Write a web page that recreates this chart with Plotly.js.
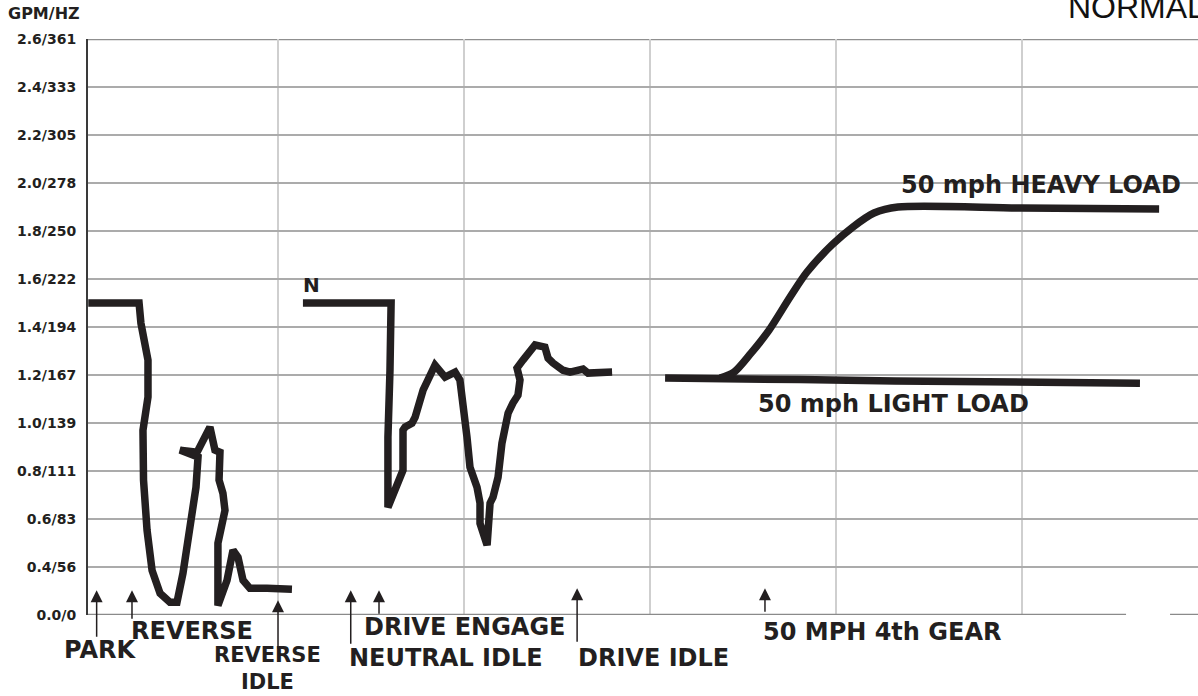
<!DOCTYPE html>
<html><head><meta charset="utf-8">
<script src="https://cdn.plot.ly/plotly-3.0.1.min.js"></script>
<style>html,body{margin:0;padding:0;background:#fff;overflow:hidden;} #chart{width:1198px;height:696px;}</style>
</head><body><div id="chart"></div>
<script>
// ---- data ----
const yTickVals = [0.2,0.4,0.6,0.8,1.0,1.2,1.4,1.6,1.8,2.0,2.2,2.4,2.6];
const yTickText = ['0.0/0','0.4/56','0.6/83','0.8/111','1.0/139','1.2/167','1.4/194','1.6/222','1.8/250','2.0/278','2.2/305','2.4/333','2.6/361'];
const xGridVals = [1,2,3,4,5];

const parkReverseT = [-0.02,0.253,0.263,0.285,0.301,0.301,0.274,0.277,0.296,0.323,0.366,0.419,0.457,0.489,0.527,0.559,0.570,0.473,0.565,0.602,0.634,0.661,0.688,0.683,0.704,0.715,0.699,0.677,0.677,0.726,0.758,0.785,0.812,0.849,0.941,1.075];
const parkReverseV = [1.50,1.50,1.416,1.316,1.262,1.108,0.970,0.762,0.553,0.386,0.290,0.253,0.253,0.374,0.553,0.732,0.858,0.887,0.878,0.928,0.983,0.887,0.878,0.762,0.707,0.636,0.566,0.499,0.240,0.345,0.470,0.440,0.345,0.311,0.311,0.307];

const neutralDriveT = [1.134,1.608,1.602,1.591,1.591,1.640,1.672,1.672,1.683,1.720,1.737,1.780,1.817,1.844,1.898,1.952,1.978,1.995,2.016,2.032,2.070,2.086,2.086,2.124,2.140,2.156,2.183,2.204,2.237,2.263,2.290,2.301,2.285,2.317,2.355,2.382,2.435,2.452,2.478,2.532,2.570,2.640,2.667,2.747,2.796];
const neutralDriveV = [1.50,1.50,1.220,0.941,0.649,0.732,0.803,0.970,0.983,0.999,1.024,1.137,1.208,1.241,1.191,1.212,1.179,1.083,0.941,0.816,0.732,0.666,0.582,0.491,0.666,0.691,0.774,0.916,1.041,1.083,1.116,1.179,1.229,1.262,1.304,1.325,1.316,1.270,1.250,1.220,1.212,1.225,1.208,1.212,1.212];

const lightLoadT = [3.081,3.376,3.806,4.317,4.989,5.634];
const lightLoadV = [1.187,1.187,1.181,1.175,1.170,1.166];

const heavyLoadT = [3.376,3.452,3.543,3.640,3.753,3.844,3.978,4.091,4.204,4.333,4.995,5.737];
const heavyLoadV = [1.187,1.212,1.291,1.387,1.525,1.629,1.742,1.817,1.875,1.900,1.896,1.892];

const eventLabels = ['PARK','REVERSE','REVERSE<br>IDLE','NEUTRAL IDLE','DRIVE ENGAGE','DRIVE IDLE','50 MPH 4th GEAR'];
const eventT = [0.025,0.215,1.0,1.391,1.543,2.608,3.618];
const eventTipV = [0.303,0.303,0.261,0.303,0.303,0.311,0.311];

// ---- styling ----
const INK = '#231f20';
const FONT = 'DejaVu Sans, Liberation Sans, Arial, sans-serif';
const lineStyle = {color: INK, width: 7.5};

const traces = [
  {x: parkReverseT, y: parkReverseV, mode: 'lines', line: lineStyle, hoverinfo: 'skip'},
  {x: neutralDriveT, y: neutralDriveV, mode: 'lines', line: lineStyle, hoverinfo: 'skip'},
  {x: lightLoadT, y: lightLoadV, mode: 'lines', line: lineStyle, hoverinfo: 'skip'},
  {x: heavyLoadT, y: heavyLoadV, mode: 'lines', line: Object.assign({shape: 'spline', smoothing: 0.8}, lineStyle), hoverinfo: 'skip'}
];

const arrowTail = [48, 30, 50, 55, 25, 55, 25];
const annotations = [];
eventT.forEach((t, i) => {
  annotations.push({x: t, y: eventTipV[i], xref: 'x', yref: 'y', text: '', showarrow: true,
    ax: 0, ay: arrowTail[i], arrowhead: 2, arrowsize: 1.6, arrowwidth: 1.5, arrowcolor: INK, standoff: 0});
});
const lblFont = {family: FONT, size: 24, color: INK, weight: 'bold'};
const smallLblFont = {family: FONT, size: 21, color: INK, weight: 'bold'};
function pY(py){ return (615 - py) / 576; }
function tX(px){ return (px - 92) / 186; }
const labelPos = [
  {text: eventLabels[0], x: tX(99.5), y: pY(649.5), xanchor: 'center', font: lblFont},
  {text: eventLabels[1], x: tX(129), y: pY(631), xanchor: 'left', font: lblFont},
  {text: eventLabels[2], x: tX(267.5), y: pY(668), xanchor: 'center', font: smallLblFont},
  {text: eventLabels[3], x: tX(347), y: pY(658), xanchor: 'left', font: lblFont},
  {text: eventLabels[4], x: tX(362), y: pY(627), xanchor: 'left', font: lblFont},
  {text: eventLabels[5], x: tX(576), y: pY(658), xanchor: 'left', font: lblFont},
  {text: eventLabels[6], x: tX(761), y: pY(631.5), xanchor: 'left', font: lblFont}
];
labelPos.forEach(l => annotations.push(Object.assign({xref: 'x', yref: 'paper', yanchor: 'middle', showarrow: false}, l)));

annotations.push({text: '50 mph HEAVY LOAD', x: tX(899), y: 1.992, xref: 'x', yref: 'y', xanchor: 'left', yanchor: 'middle', showarrow: false, font: lblFont});
annotations.push({text: '50 mph LIGHT LOAD', x: tX(756), y: 1.081, xref: 'x', yref: 'y', xanchor: 'left', yanchor: 'middle', showarrow: false, font: lblFont});
annotations.push({text: 'N', x: tX(311), y: 1.573, xref: 'x', yref: 'y', xanchor: 'center', yanchor: 'middle', showarrow: false, font: {family: FONT, size: 20, color: INK, weight: 'bold'}});
annotations.push({text: 'GPM/HZ', x: (6 - 88) / 1110, y: (615 - 13) / 576, xref: 'paper', yref: 'paper', xanchor: 'left', yanchor: 'middle', showarrow: false, font: {family: FONT, size: 16, color: INK, weight: 'bold'}});
annotations.push({text: 'NORMAL', x: (1066 - 88) / 1110, y: (615 - 7) / 576, xref: 'paper', yref: 'paper', xanchor: 'left', yanchor: 'middle', showarrow: false, font: {family: 'Liberation Sans, Arial, sans-serif', size: 32, color: '#111'}});

const gapL = tX(1126), gapR = tX(1170);
const shapes = [
  {type: 'line', xref: 'paper', yref: 'y', x0: 0, x1: 1, y0: 2.6, y1: 2.6, line: {color: '#8f8f8f', width: 2.5}, layer: 'between'},
  {type: 'rect', xref: 'x', yref: 'y', x0: gapL, x1: gapR, y0: 0.19, y1: 0.21, fillcolor: '#ffffff', line: {width: 0}, layer: 'between'},
  {type: 'line', xref: 'x', yref: 'y', x0: -0.03, x1: gapL, y0: 0.2, y1: 0.2, line: {color: '#8a8a8a', width: 2.5}, layer: 'between'},
  {type: 'line', xref: 'x', yref: 'y', x0: gapR, x1: 6, y0: 0.2, y1: 0.2, line: {color: '#8a8a8a', width: 2.5}, layer: 'between'}
];

const layout = {
  width: 1198, height: 696,
  margin: {l: 88, r: 0, t: 39, b: 81},
  paper_bgcolor: '#fff', plot_bgcolor: '#fff',
  showlegend: false, hovermode: false,
  xaxis: {range: [-0.0215, 5.946], tickvals: xGridVals, showticklabels: false, ticks: '',
    showgrid: true, gridcolor: '#cfcfcf', gridwidth: 2, zeroline: false, showline: false, fixedrange: true},
  yaxis: {range: [0.2, 2.6], tickvals: yTickVals, ticktext: yTickText, ticks: '', ticklabelstandoff: 7,
    tickfont: {family: FONT, size: 14, color: INK, weight: 'bold'},
    showgrid: true, gridcolor: '#ababab', gridwidth: 2, zeroline: false,
    showline: true, linecolor: '#3a3a3a', linewidth: 2, fixedrange: true},
  annotations: annotations,
  shapes: shapes
};

Plotly.newPlot('chart', traces, layout, {staticPlot: true, displayModeBar: false});
</script></body></html>
